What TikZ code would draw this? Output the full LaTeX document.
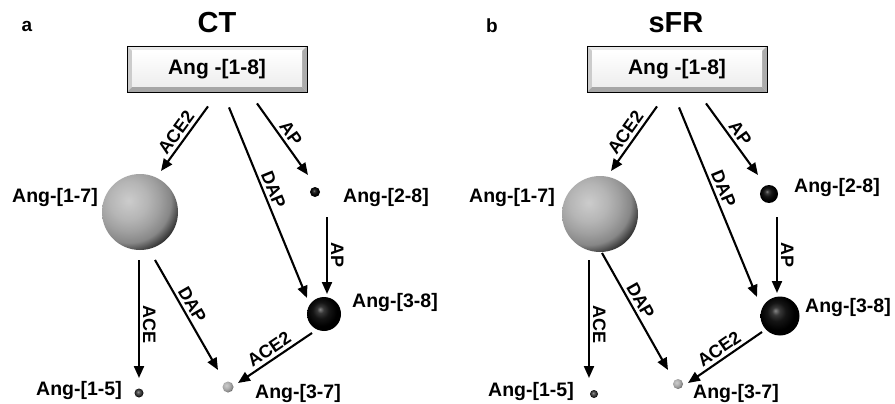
\documentclass[tikz,border=0pt]{standalone}
\usepackage{fontspec}
\setmainfont{Liberation Sans}
\usetikzlibrary{arrows.meta,calc}
\definecolor{lsA}{gray}{0.80}
\definecolor{lsB}{gray}{0.71}
\definecolor{lsC}{gray}{0.63}
\definecolor{lsD}{gray}{0.53}
\definecolor{lsE}{gray}{0.30}
\definecolor{lsF}{gray}{0.16}
\definecolor{dsA}{gray}{0.52}
\definecolor{dsB}{gray}{0.22}
\definecolor{dsC}{gray}{0.08}
\definecolor{msA}{gray}{0.60}
\definecolor{msB}{gray}{0.35}
\definecolor{msC}{gray}{0.18}
\pgfdeclareradialshading{lightshade}{\pgfpoint{0bp}{0bp}}{%
  color(0bp)=(lsA); color(8.6bp)=(lsB); color(13.8bp)=(lsC); color(19bp)=(lsD); color(22.4bp)=(lsE); color(24.5bp)=(lsF); color(50bp)=(lsF)}
\pgfdeclareradialshading{darksph}{\pgfpoint{-6bp}{7bp}}{%
  color(0bp)=(dsA); color(5bp)=(dsB); color(12bp)=(dsC); color(22bp)=(black); color(50bp)=(black)}
\pgfdeclareradialshading{midsph}{\pgfpoint{-6bp}{7bp}}{%
  color(0bp)=(msA); color(8bp)=(msB); color(18bp)=(msC); color(26bp)=(black); color(50bp)=(black)}
\begin{document}
\begin{tikzpicture}[x=1pt,y=-1pt,
  arr/.style={line width=2.1pt,-{Triangle[length=12pt,width=10pt]}},
  elab/.style={font=\fontsize{18}{18}\selectfont\bfseries,sloped,above,inner sep=3pt},
  nlab/.style={font=\fontsize{19.5}{20}\selectfont\bfseries,inner sep=0pt},
  ttl/.style={font=\fontsize{29}{29}\selectfont\bfseries,inner sep=0pt},
  plet/.style={font=\fontsize{19}{19}\selectfont\bfseries,inner sep=0pt},
  sph/.style={circle,inner sep=0pt,minimum size=#1},
  lsph/.style={sph=#1,path picture={
      \shade[shading=lightshade]
        ([xshift=-0.15*#1,yshift=0.15*#1]path picture bounding box.center) circle[radius=0.73*#1];}},
  dsph/.style={sph=#1,shading=darksph},
  msph/.style={sph=#1,shading=midsph},
  bevelbox/.style={draw=black,line width=0.8pt,minimum width=180pt,minimum height=46pt,inner sep=0pt,
    font=\fontsize{21}{21}\selectfont\bfseries,
    path picture={
      \fill[gray!18] (path picture bounding box.north west) -- (path picture bounding box.north east)
        -- ([xshift=-5pt,yshift=-5pt]path picture bounding box.north east)
        -- ([xshift=5pt,yshift=-5pt]path picture bounding box.north west) -- cycle;
      \fill[gray!40] (path picture bounding box.north west) -- ([xshift=5pt,yshift=-5pt]path picture bounding box.north west)
        -- ([xshift=5pt,yshift=5pt]path picture bounding box.south west)
        -- (path picture bounding box.south west) -- cycle;
      \fill[gray!65] (path picture bounding box.north east) -- ([xshift=-5pt,yshift=-5pt]path picture bounding box.north east)
        -- ([xshift=-5pt,yshift=5pt]path picture bounding box.south east)
        -- (path picture bounding box.south east) -- cycle;
      \fill[gray!70] (path picture bounding box.south west) -- ([xshift=5pt,yshift=5pt]path picture bounding box.south west)
        -- ([xshift=-5pt,yshift=5pt]path picture bounding box.south east)
        -- (path picture bounding box.south east) -- cycle;
      \shade[top color=white,bottom color=gray!14]
        ([xshift=5pt,yshift=5pt]path picture bounding box.south west)
        rectangle ([xshift=-5pt,yshift=-5pt]path picture bounding box.north east);
    }}
]
\useasboundingbox (0,0) rectangle (895,404);

% ---------------- panel a ----------------
\node[plet] (la) at (27,26) {a};
\node[ttl] (ta) at (217,23) {CT};
\node[bevelbox] (boxA) at (217,69) {Ang -[1-8]};

\node[lsph=76pt] (a17) at (140,212) {};
\node[dsph=10pt] (a28) at (315,192) {};
\node[dsph=34pt] (a38) at (324,314) {};
\node[msph=9pt] (a15) at (139,393) {};
\node[lsph=11pt] (a37) at (228,387) {};

\node[nlab] (ta17) at (55,198) {Ang-[1-7]};
\node[nlab] (ta28) at (386,198) {Ang-[2-8]};
\node[nlab] (ta38) at (395,302) {Ang-[3-8]};
\node[nlab] (ta15) at (79,390) {Ang-[1-5]};
\node[nlab] (ta37) at (298,393) {Ang-[3-7]};

\draw[arr] ($(boxA.south)+(-9,14)$) -- node[elab]{ACE2} ($(a17)+(21,-41)$);
\draw[arr] ($(boxA.south)+(12,15)$) -- node[elab,pos=0.45]{DAP} ($(a38)+(-17,-16)$);
\draw[arr] ($(boxA.south)+(40,11)$) -- node[elab]{AP} ($(a28)+(-7,-17)$);
\draw[arr] ($(a28)+(12,25)$) -- node[elab]{AP} ($(a38)+(3,-20)$);
\draw[arr] ($(a17)+(-1,48)$) -- node[elab,pos=0.55]{ACE} ($(a15)+(0,-15)$);
\draw[arr] ($(a17)+(15,48)$) -- node[elab,pos=0.45]{DAP} ($(a37)+(-10,-17)$);
\draw[arr] ($(a38)+(-12,19)$) -- node[elab]{ACE2} ($(a37)+(10,-4)$);

% ---------------- panel b ----------------
\node[plet] (lb) at (492,26) {b};
\node[ttl] (tb) at (676,23) {sFR};
\node[bevelbox] (boxB) at (677,69) {Ang -[1-8]};

\node[lsph=76pt] (b17) at (600,214) {};
\node[dsph=18pt] (b28) at (769,194) {};
\node[dsph=39pt] (b38) at (780,316) {};
\node[msph=8pt] (b15) at (594,394) {};
\node[lsph=10pt] (b37) at (678,384) {};

\node[nlab] (tb17) at (512,198) {Ang-[1-7]};
\node[nlab] (tb28) at (837,188) {Ang-[2-8]};
\node[nlab] (tb38) at (848,307) {Ang-[3-8]};
\node[nlab] (tb15) at (531,391) {Ang-[1-5]};
\node[nlab] (tb37) at (736,393) {Ang-[3-7]};

\draw[arr] ($(boxB.south)+(-20,14)$) -- node[elab]{ACE2} ($(b17)+(11,-43)$);
\draw[arr] ($(boxB.south)+(2,15)$) -- node[elab,pos=0.45]{DAP} ($(b38)+(-23,-19)$);
\draw[arr] ($(boxB.south)+(29,11)$) -- node[elab]{AP} ($(b28)+(-11,-19)$);
\draw[arr] ($(b28)+(8,23)$) -- node[elab]{AP} ($(b38)+(-3,-23)$);
\draw[arr] ($(b17)+(-11,46)$) -- node[elab,pos=0.55]{ACE} ($(b15)+(-5,-16)$);
\draw[arr] ($(b17)+(2,39)$) -- node[elab,pos=0.45]{DAP} ($(b37)+(-10,-14)$);
\draw[arr] ($(b38)+(-18,16)$) -- node[elab]{ACE2} ($(b37)+(10,-1)$);
\end{tikzpicture}
\end{document}
